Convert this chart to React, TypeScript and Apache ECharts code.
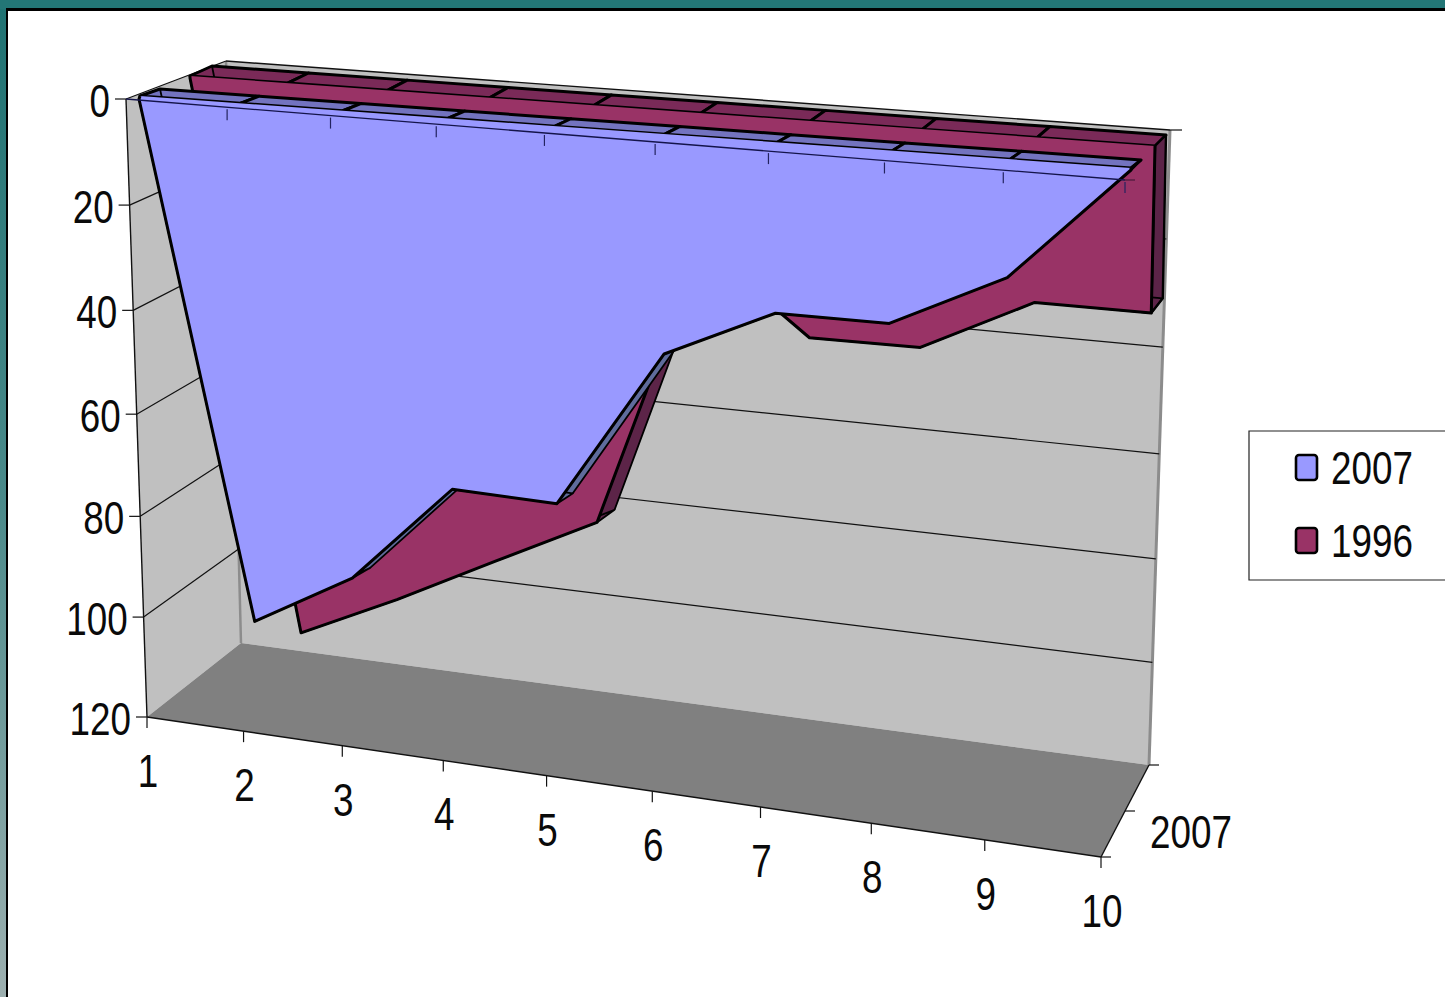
import React, { useEffect, useRef } from "react";
import * as echarts from "echarts";

const categories = ["1", "2", "3", "4", "5", "6", "7", "8", "9", "10"];
const values2007 = [0, 99, 88, 68.5, 69, 39.2, 30, 30, 20.2, 0];
const values1996 = [0, 109, 99.6, 89.3, 79.2, 24, 39.4, 39.2, 29, 29];
const valueTicks = [0, 20, 40, 60, 80, 100, 120];
const depthLabels = ["2007"];
const seriesNames = ["2007", "1996"];
const seriesColors = ["#9999ff", "#993366"];

type P = [number, number];
type Plane = { tl: P; tr: P; bl: P; br: P };

const W = 1445;
const H = 997;
const FONT = "'Liberation Sans', sans-serif";
const FS = 46;
const SX = 0.8;

const FRONT: Plane = { tl: [126, 99], tr: [1125, 180], bl: [147, 717], br: [1101, 857] };
const BACK: Plane = { tl: [226, 61], tr: [1170, 130], bl: [241, 643], br: [1149, 765] };
const P2007F: Plane = { tl: [139, 99], tr: [1131, 170], bl: [162, 713], br: [1109, 849] };
const P2007S: Plane = { tl: [140, 96], tr: [1131, 168], bl: [162, 713], br: [1109, 849] };
const P2007B: Plane = { tl: [160, 89], tr: [1141, 160], bl: [181, 703], br: [1119, 838] };
const P1996F: Plane = { tl: [190, 78], tr: [1155, 151], bl: [208, 673], br: [1140, 803] };
const P1996S: Plane = { tl: [190, 76], tr: [1155, 146], bl: [208, 673], br: [1140, 803] };
const P1996B: Plane = { tl: [212, 66], tr: [1166, 135], bl: [229, 660], br: [1153, 792] };

const lerp = (a: P, b: P, t: number): P => [a[0] + (b[0] - a[0]) * t, a[1] + (b[1] - a[1]) * t];
const warpU = (u: number) => u / (1.11 - 0.11 * u);
const warpV = (v: number) => v + 0.01 * Math.sin(Math.PI * v);

function proj(pl: Plane, u: number, v: number): P {
  const t = warpU(u);
  return lerp(lerp(pl.tl, pl.tr, t), lerp(pl.bl, pl.br, t), warpV(v));
}

// chart value -> normalised axis position, through the (hidden) cartesian scales
function norm(params: any, api: any, cat: number, val: number): [number, number] {
  const c = api.coord([cat, val]);
  const r = params.coordSys;
  return [(c[0] - r.x) / r.width, (c[1] - r.y) / r.height];
}

const line = (a: P, b: P, stroke = "#000", lineWidth = 1.2) => ({
  type: "line",
  shape: { x1: a[0], y1: a[1], x2: b[0], y2: b[1] },
  style: { stroke, lineWidth },
});
const poly = (points: P[], fill: string, stroke?: string, lineWidth = 2.4) => ({
  type: "polygon",
  shape: { points },
  style: { fill, stroke: stroke || "none", lineWidth, lineJoin: "round" },
});
const label = (text: string, x: number, y: number, align: string) => ({
  type: "text",
  x,
  y,
  scaleX: SX,
  style: { text, x: 0, y: 0, align, verticalAlign: "middle", fill: "#0a0a0a", fontSize: FS, fontFamily: FONT },
});

function wallsItem(params: any, api: any) {
  const tick = valueTicks[params.dataIndex];
  const [, v] = norm(params, api, 0, tick);
  const ch: any[] = [];
  if (params.dataIndex === 0) {
    ch.push(poly([proj(FRONT, 0, 0), proj(BACK, 0, 0), proj(BACK, 0, 1), proj(FRONT, 0, 1)], "#c0c0c0"));
    ch.push(poly([proj(BACK, 0, 0), proj(BACK, 1, 0), proj(BACK, 1, 1), proj(BACK, 0, 1)], "#c0c0c0"));
    ch.push(poly([proj(FRONT, 0, 1), proj(BACK, 0, 1), proj(BACK, 1, 1), proj(FRONT, 1, 1)], "#808080"));
    ch.push(line(proj(BACK, 0, 0), proj(BACK, 0, 1), "#8c8c8c", 2.5));
    ch.push(line(proj(BACK, 1, 0), proj(BACK, 1, 1), "#8c8c8c", 3));
    ch.push(line(proj(FRONT, 0, 0), proj(FRONT, 0, 1), "#111", 1.4));
    ch.push(line(proj(FRONT, 0, 1), proj(FRONT, 1, 1), "#111", 1.4));
    ch.push(line(proj(FRONT, 1, 1), proj(BACK, 1, 1), "#111", 1.4));
    ch.push(line(proj(FRONT, 0, 0), proj(BACK, 0, 0), "#111", 1.2));
    ch.push(line(proj(BACK, 0, 0), proj(BACK, 1, 0), "#111", 1.4));
    const br = proj(BACK, 1, 0);
    ch.push(line(br, [br[0] + 12, br[1]], "#111", 1.2));
    const b1 = proj(BACK, 1, 1);
    const f1 = proj(FRONT, 1, 1);
    const m1 = lerp(b1, f1, 0.5);
    ch.push(line(b1, [b1[0] + 10, b1[1]], "#111", 1.2));
    ch.push(line(m1, [m1[0] + 10, m1[1]], "#111", 1.2));
    ch.push(line(f1, [f1[0] + 10, f1[1]], "#111", 1.2));
    ch.push(label(depthLabels[0], m1[0] + 25, m1[1] + 21, "left"));
  }
  const f = proj(FRONT, 0, v);
  if (tick > 0 && tick < 120) {
    ch.push(line(f, proj(BACK, 0, v), "#111", 1.2));
    ch.push(line(proj(BACK, 0, v), proj(BACK, 1, v), "#111", 1.2));
  }
  ch.push(line([f[0] - 11, f[1]], f, "#111", 1.2));
  ch.push(label(String(tick), f[0] - 16, f[1] + 2, "right"));
  return { type: "group", children: ch };
}

function catItem(params: any, api: any) {
  const i = params.dataIndex;
  const [u, v] = norm(params, api, i, 120);
  const b = proj(FRONT, u, v);
  return {
    type: "group",
    children: [
      line(b, [b[0], b[1] + 11], "#111", 1.2),
      label(categories[i], b[0] + 1, b[1] + 54, "center"),
    ],
  };
}

function areaRender(
  values: number[],
  front: Plane,
  stripFront: Plane,
  back: Plane,
  fill: string,
  strip: string,
  side: string
) {
  return (params: any, api: any) => {
    const i = params.dataIndex;
    const n = values.length;
    const ch: any[] = [];
    const pt = (pl: Plane, k: number, val: number) => {
      const [u, v] = norm(params, api, k, val);
      return proj(pl, u, v);
    };
    if (i < n - 1) {
      ch.push(poly([pt(front, i, values[i]), pt(front, i + 1, values[i + 1]), pt(back, i + 1, values[i + 1]), pt(back, i, values[i])], side));
      ch.push(poly([pt(stripFront, i, 0), pt(stripFront, i + 1, 0), pt(back, i + 1, 0), pt(back, i, 0)], strip, "#000", 3));
    } else {
      ch.push(poly([pt(stripFront, i, 0), pt(front, i, values[i]), pt(back, i, values[i]), pt(back, i, 0)], side, "#000", 2.4));
      for (let k = 0; k < n - 1; k++) {
        ch.push({
          type: "polyline",
          shape: { points: [pt(front, k, values[k]), pt(front, k + 1, values[k + 1]), pt(back, k + 1, values[k + 1]), pt(back, k, values[k])] },
          style: { stroke: "#000", lineWidth: 1.8, fill: "none", lineJoin: "round" },
        });
      }
      const pts: P[] = [pt(stripFront, 0, 0)];
      for (let k = 0; k < n; k++) pts.push(pt(front, k, values[k]));
      pts.push(pt(stripFront, n - 1, 0));
      ch.push(poly(pts, fill));
      ch.push({
        type: "polyline",
        shape: { points: pts },
        style: { stroke: "#000", lineWidth: 3, fill: "none", lineJoin: "round" },
      });
    }
    return { type: "group", children: ch };
  };
}

function topAxisItem(params: any, api: any) {
  const i = params.dataIndex;
  const [u] = norm(params, api, i, 0);
  const ch: any[] = [];
  const p = proj(FRONT, u, 0);
  if (i === 0) ch.push(line(proj(FRONT, 0, 0), proj(FRONT, 1, 0), "#14144a", 1.3));
  if (i > 0) ch.push(line([p[0], p[1] + 2], [p[0], p[1] + 13], "#23235f", 1.2));
  if (i === categories.length - 1) ch.push(line(p, [p[0] + 10, p[1]], "#4a1a3a", 1.2));
  return { type: "group", children: ch };
}

const legendRows = seriesNames.map((name, i) => ({
  type: "group",
  x: 1296,
  y: 455 + i * 73,
  children: [
    {
      type: "rect",
      shape: { x: 0, y: 0, width: 21, height: 25, r: 3 },
      style: { fill: seriesColors[i], stroke: "#000", lineWidth: 2.6 },
    },
    {
      type: "text",
      x: 35,
      y: 13,
      scaleX: SX,
      style: { text: name, x: 0, y: 0, align: "left", verticalAlign: "middle", fill: "#0a0a0a", fontSize: FS, fontFamily: FONT },
    },
  ],
}));

export default function App() {
  const ref = useRef<HTMLDivElement>(null);
  useEffect(() => {
    if (!ref.current) return;
    const chart = echarts.init(ref.current, undefined, { renderer: "svg" });
    const encode = { x: 0, y: 1 };
    chart.setOption({
      animation: false,
      backgroundColor: "transparent",
      grid: { left: 0, top: 0, right: 0, bottom: 0 },
      xAxis: { type: "category", data: categories, boundaryGap: false, show: false },
      yAxis: { type: "value", min: 0, max: 120, interval: 20, inverse: true, show: false },
      graphic: [
        {
          type: "rect",
          shape: { x: 1249, y: 431, width: 230, height: 149 },
          style: { fill: "#fff", stroke: "#222", lineWidth: 1.2 },
        },
        ...legendRows,
      ],
      series: [
        { type: "custom", name: "walls", z: 1, silent: true, encode, data: valueTicks.map((t) => [0, t]), renderItem: wallsItem },
        { type: "custom", name: "categories", z: 2, silent: true, encode, data: categories.map((_, i) => [i, 120]), renderItem: catItem },
        {
          type: "custom", name: seriesNames[1], z: 3, silent: true, encode,
          itemStyle: { color: seriesColors[1] },
          data: values1996.map((v, i) => [i, v]),
          renderItem: areaRender(values1996, P1996F, P1996S, P1996B, seriesColors[1], "#7a2a58", "#5c2448"),
        },
        {
          type: "custom", name: seriesNames[0], z: 4, silent: true, encode,
          itemStyle: { color: seriesColors[0] },
          data: values2007.map((v, i) => [i, v]),
          renderItem: areaRender(values2007, P2007F, P2007S, P2007B, seriesColors[0], "#7373bf", "#5f6c9c"),
        },
        { type: "custom", name: "top axis", z: 5, silent: true, encode, data: categories.map((_, i) => [i, 0]), renderItem: topAxisItem },
      ],
    });
    return () => chart.dispose();
  }, []);
  return (
    <div style={{ position: "fixed", left: 0, top: 0, width: W, height: H, overflow: "hidden", background: "linear-gradient(to bottom, #1f7272 0%, #4a8a8a 50%, #9db0b0 100%)" }}>
      <div style={{ position: "absolute", left: 0, top: 0, width: W, height: 9, background: "#237676" }} />
      <div style={{ position: "absolute", left: 6, top: 8, width: W, height: H, background: "#fff", borderLeft: "2px solid #000", borderTop: "3px solid #000", boxSizing: "border-box" }} />
      <div ref={ref} style={{ position: "absolute", left: 0, top: 0, width: W, height: H }} />
    </div>
  );
}
